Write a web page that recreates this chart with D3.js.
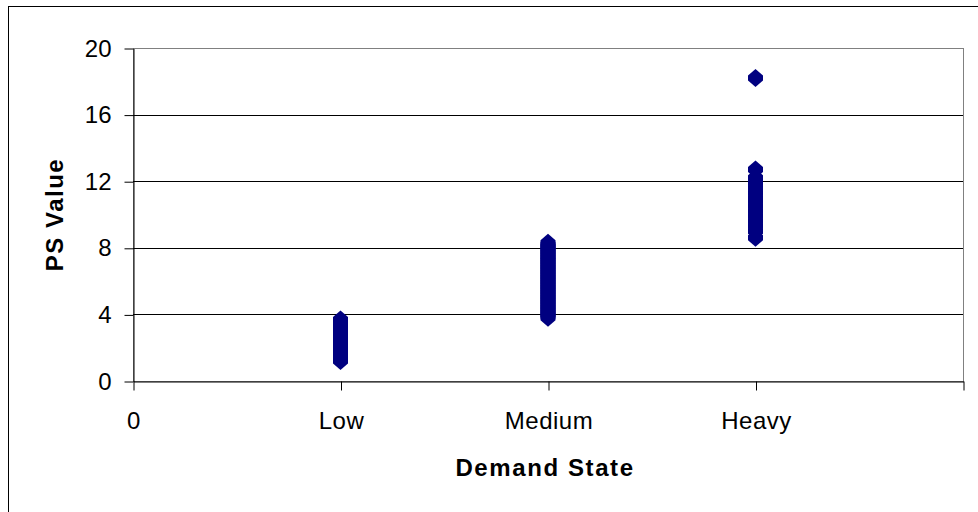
<!DOCTYPE html>
<html><head><meta charset="utf-8">
<script src="https://cdn.jsdelivr.net/npm/d3@7"></script>
<style>body{margin:0;background:#fff}svg{display:block}text{font-family:Arial,"Liberation Sans",sans-serif}</style>
</head><body><div id="chart"></div>
<script>
const categories = ["0", "Low", "Medium", "Heavy", ""];
const lowValues = [1.2,1.3,1.4,1.5,1.6,1.7,1.8,1.9,2.0,2.1,2.2,2.3,2.4,2.5,2.6,2.7,2.8,2.9,3.0,3.1,3.2,3.3,3.4,3.5,3.6,3.7];
const mediumValues = [3.8,3.9,4.0,4.1,4.2,4.3,4.4,4.5,4.6,4.7,4.8,4.9,5.0,5.1,5.2,5.3,5.4,5.5,5.6,5.7,5.8,5.9,6.0,6.1,6.2,6.3,6.4,6.5,6.6,6.7,6.8,6.9,7.0,7.1,7.2,7.3,7.4,7.5,7.6,7.7,7.8,7.9,8.0,8.1,8.2,8.3];
const heavyValues = [8.6,9.0,9.3,9.6,9.9,10.2,10.5,10.8,11.0,11.3,11.6,11.9,12.2,12.7,18.2];
const yTicks = [0,4,8,12,16,20];
const xTicks = [0,1,2,3,4];

const W = 978, H = 512;
const m = {left:133, right:963, top:48, bottom:381};
const svg = d3.select("#chart").append("svg").attr("width",W).attr("height",H);

// outer frame (extends beyond viewport)
svg.append("rect").attr("x",8.5).attr("y",6.5).attr("width",1100).attr("height",700)
  .attr("fill","none").attr("stroke","#000").attr("stroke-width",1);

const x = d3.scaleLinear().domain([0,4]).range([m.left,m.right]);
const y = d3.scaleLinear().domain([0,20]).range([m.bottom,m.top]);

// plot border (gray)
svg.append("rect").attr("x",m.left+0.5).attr("y",m.top+0.5)
  .attr("width",m.right-m.left).attr("height",m.bottom-m.top)
  .attr("fill","none").attr("stroke","#808080").attr("stroke-width",1);

// gridlines
svg.append("g").selectAll("line").data(yTicks.filter(d=>d>0 && d<20)).join("line")
  .attr("x1",m.left).attr("x2",m.right)
  .attr("y1",d=>Math.round(y(d))+0.5).attr("y2",d=>Math.round(y(d))+0.5)
  .attr("stroke","#000").attr("stroke-width",1);

const font = "Arial, 'Liberation Sans', sans-serif";

// y axis
const yAxis = svg.append("g").attr("transform",`translate(${m.left+0.5},0.5)`)
  .call(d3.axisLeft(y).tickValues(yTicks).tickSize(9).tickPadding(13).tickSizeOuter(0));
yAxis.select(".domain").attr("stroke","#000");
yAxis.selectAll(".tick line").attr("stroke","#000");
yAxis.selectAll(".tick text").attr("font-size",24).attr("fill","#000").attr("font-family",font);

// x axis
const xAxis = svg.append("g").attr("transform",`translate(0.5,${m.bottom+0.5})`)
  .call(d3.axisBottom(x).tickValues(xTicks).tickFormat((d,i)=>categories[i]).tickSize(9).tickPadding(21).tickSizeOuter(0));
xAxis.select(".domain").attr("stroke","#000");
xAxis.selectAll(".tick line").attr("stroke","#000");
xAxis.selectAll(".tick text").attr("font-size",24).attr("fill","#000").attr("font-family",font)
  .attr("letter-spacing",0.5);

// points
const pts = [];
lowValues.forEach(v=>pts.push({c:1,v}));
mediumValues.forEach(v=>pts.push({c:2,v}));
heavyValues.forEach(v=>pts.push({c:3,v}));
const marker = "M0,-9L7.5,-2.5L7.5,2.5L0,9L-7.5,2.5L-7.5,-2.5Z";
svg.append("g").selectAll("path").data(pts).join("path")
  .attr("d",marker)
  .attr("transform",d=>`translate(${x(d.c)},${y(d.v)})`)
  .attr("fill","#000080");

// axis titles
svg.append("text").attr("x",545).attr("y",476).attr("text-anchor","middle")
  .attr("font-size",24).attr("font-weight","bold").attr("letter-spacing",1.6).text("Demand State");
svg.append("text").attr("transform",`translate(63,${(m.top+m.bottom)/2}) rotate(-90)`)
  .attr("text-anchor","middle").attr("font-size",24).attr("font-weight","bold").attr("letter-spacing",1.5).text("PS Value");
</script></body></html>
